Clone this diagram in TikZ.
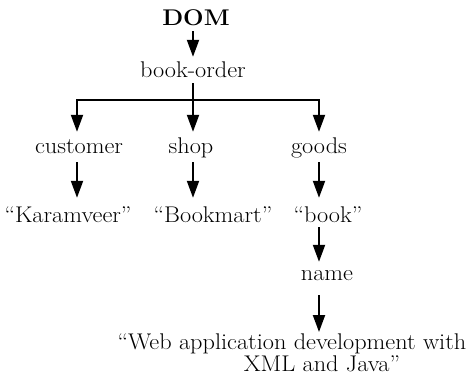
\documentclass[tikz,border=0pt]{standalone}
\usepackage{fontspec}
\setmainfont[FakeStretch=1.07]{Latin Modern Roman}
\usetikzlibrary{arrows.meta}
\begin{document}
\begin{tikzpicture}[x=1pt,y=-1pt,
  lbl/.style={inner sep=0pt,anchor=base,text height=16pt,text depth=5pt,font=\fontsize{22.7}{26}\selectfont},
  arr/.style={line width=2pt,-{Triangle[length=17pt,width=12pt]}},
  ln/.style={line width=2pt}]
\useasboundingbox (0,0) rectangle (469,375);
\node[lbl,font=\fontsize{22.7}{26}\selectfont\bfseries] (dom) at (196,25) {DOM};
\node[lbl] (bo) at (193,77) {book-order};
\node[lbl] (cust) at (79,153) {customer};
\node[lbl] (shop) at (191,153) {shop};
\node[lbl] (goods) at (319,153) {goods};
\node[lbl] (kar) at (68,222) {``Karamveer''};
\node[lbl] (bm) at (213,222) {``Bookmart''};
\node[lbl] (book) at (328,222) {``book''};
\node[lbl] (name) at (327,280) {name};
\node[inner sep=0pt,anchor=north,align=center,font=\fontsize{22.7}{22}\selectfont] (web) at (292,334) {``Web application development with\\\hspace*{60pt}XML and Java''};
\coordinate (j) at (193,100);
\draw[arr,shorten <=1pt,shorten >=4pt] (bo|-dom.south) -- (bo);
\draw[ln,shorten <=1pt] (bo) -- (j);
\draw[arr,shorten >=5pt] (j) -- (j|-shop.north);
\draw[arr,shorten >=5pt] (j) -| ([xshift=-2pt]cust.north);
\draw[arr,shorten >=5pt] (j) -| (goods);
\draw[arr,shorten <=4pt,shorten >=8pt] ([xshift=-2pt]cust.south) -- ([xshift=-2pt]cust|-kar.north);
\draw[arr,shorten <=4pt,shorten >=8pt] (j|-shop.south) -- (j|-bm.north);
\draw[arr,shorten <=4pt,shorten >=8pt] (goods) -- (goods|-book.north);
\draw[arr,shorten >=2pt] (goods|-book.south) -- (goods|-name.north);
\draw[arr,shorten <=10pt,shorten >=2pt] (goods|-name.south) -- (goods|-web.north);
\end{tikzpicture}
\end{document}
